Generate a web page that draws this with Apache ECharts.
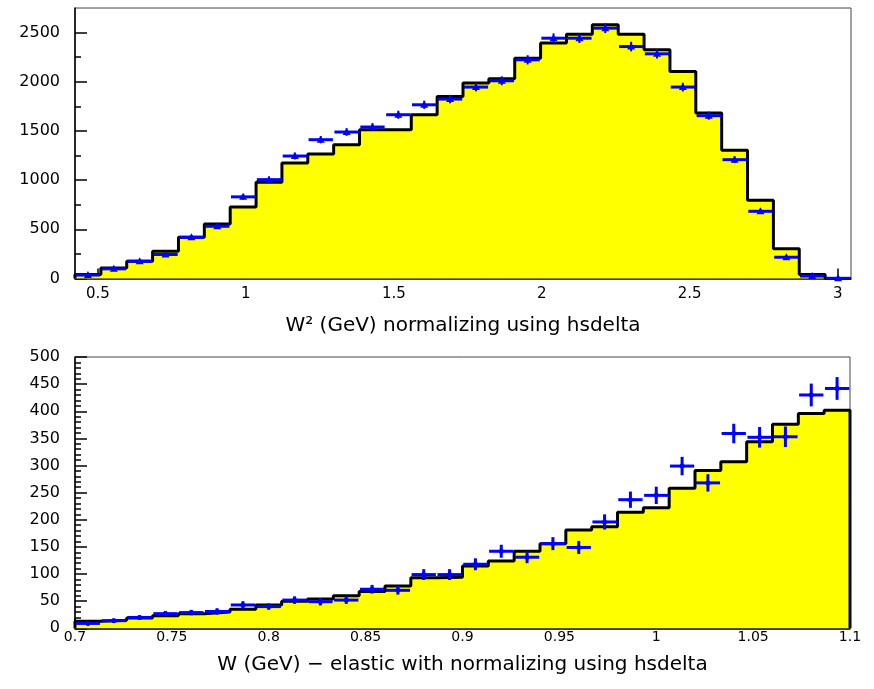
<!DOCTYPE html>
<html><head><meta charset="utf-8">
<script src="https://cdn.jsdelivr.net/npm/echarts@6/dist/echarts.min.js"></script>
<style>html,body{margin:0;padding:0;background:#fff}#c{width:874px;height:689px}</style>
</head><body><div id="c"></div>
<script>
// ---------- top panel : W^2 ----------
const topRange = [0.4225, 3.045];
const topSim  = [40, 108, 176, 277, 419, 555, 728, 978, 1175, 1266, 1360, 1513, 1513, 1665, 1851, 1987, 2030, 2240, 2393, 2484, 2579, 2484, 2325, 2105, 1682, 1303, 795, 302, 41, 0];
const topData = [35, 98, 176, 244, 419, 531, 830, 1005, 1245, 1411, 1489, 1540, 1665, 1766, 1824, 1946, 2010, 2223, 2443, 2443, 2545, 2358, 2284, 1946, 1655, 1208, 683, 216, 25, 2];
const topErr  = [6, 10, 13, 16, 20, 23, 29, 32, 35, 37, 39, 39, 41, 42, 43, 44, 45, 47, 49, 49, 50, 49, 48, 44, 41, 35, 26, 15, 5, 1];
const topMajorX = [0.5, 1, 1.5, 2, 2.5, 3];
const topMajorY = [0, 500, 1000, 1500, 2000, 2500];
const topYMax = 2750;
const topTitle = 'W\u00B2 (GeV) normalizing using hsdelta';

// ---------- bottom panel : W ----------
const botRange = [0.7, 1.1];
const botSim  = [13, 15, 19, 23, 27, 30, 35, 43, 50, 54, 60, 68, 78, 93, 94, 115, 124, 142, 156, 181, 187, 214, 222, 258, 291, 307, 344, 376, 396, 402];
const botData = [9, 14, 20, 27, 29, 31, 43, 40, 52, 49, 52, 72, 70, 99, 99, 118, 142, 131, 156, 149, 196, 237, 245, 299, 268, 359, 352, 353, 430, 442];
const botErr  = [3, 4, 4, 5, 5, 6, 7, 6, 7, 7, 7, 8, 8, 10, 10, 11, 12, 11, 12, 12, 14, 15, 16, 17, 16, 18, 19, 19, 21, 21];
const botMajorX = [0.7, 0.75, 0.8, 0.85, 0.9, 0.95, 1, 1.05, 1.1];
const botMajorY = [0, 50, 100, 150, 200, 250, 300, 350, 400, 450, 500];
const botYMax = 500;
const botTitle = 'W (GeV) \u2212 elastic with normalizing using hsdelta';

// minor tick positions (between the majors)
function minors(majors, n, lo, hi) {
  const out = [];
  const step = (majors[1] - majors[0]) / n;
  for (let v = majors[0] - step * n; v <= hi + 1e-9; v += step) {
    const r = Math.round(v * 1e6) / 1e6;
    if (r < lo - 1e-9) continue;
    if (majors.some(m => Math.abs(m - r) < 1e-6)) continue;
    out.push(r);
  }
  return out;
}
const topMinorX = minors(topMajorX, 5, topRange[0], topRange[1]);
const topMinorY = minors(topMajorY, 2, 0, topYMax - 1);
const botMinorX = minors(botMajorX, 2, botRange[0], botRange[1]);
const botMinorY = minors(botMajorY, 5, 0, botYMax - 1);

const FONT = 'DejaVu Sans';
const plain = v => String(Math.round(v * 1e6) / 1e6);

function stepPoints(range, vals) {
  const w = (range[1] - range[0]) / vals.length;
  const pts = [[range[0], 0]];
  vals.forEach((v, i) => pts.push([range[0] + i * w, v]));
  pts.push([range[1], vals[vals.length - 1]]);
  pts.push([range[1], 0]);
  return pts;
}

function histSeries(range, vals, gi) {
  return {
    type: 'line', xAxisIndex: gi * 2, yAxisIndex: gi * 2,
    data: stepPoints(range, vals), step: 'end', symbol: 'none',
    lineStyle: { color: '#000', width: 3 },
    areaStyle: { color: '#ffff00', opacity: 1, origin: 'start' },
    z: 2, silent: true, animation: false
  };
}

function errSeries(range, vals, errs, gi, cross) {
  const w = (range[1] - range[0]) / vals.length;
  const data = vals.map((v, i) => [range[0] + (i + 0.5) * w, v, errs[i]]);
  return {
    type: 'custom', xAxisIndex: gi * 2, yAxisIndex: gi * 2, data, z: 5, animation: false, silent: true,
    renderItem: function (params, api) {
      const xc = api.value(0), v = api.value(1), e = api.value(2);
      const pL = api.coord([xc - w / 2 + w * 0.03, v]);
      const pR = api.coord([xc + w / 2 - w * 0.03, v]);
      const pC = api.coord([xc, v]);
      const pT = api.coord([xc, v + e]);
      const pB = api.coord([xc, Math.max(v - e, 0)]);
      const blue = '#0000ff';
      const children = [
        { type: 'line', shape: { x1: pL[0], y1: pL[1], x2: pR[0], y2: pR[1] }, style: { stroke: blue, lineWidth: 3 } },
        { type: 'line', shape: { x1: pT[0], y1: pT[1], x2: pB[0], y2: pB[1] }, style: { stroke: blue, lineWidth: cross ? 3 : 2 } }
      ];
      if (!cross) {
        children.push({ type: 'polygon', shape: { points: [[pC[0] - 4, pC[1] + 3], [pC[0] + 4, pC[1] + 3], [pC[0], pC[1] - 4]] }, style: { fill: blue } });
      } else {
        children.push({ type: 'circle', shape: { cx: pC[0], cy: pC[1], r: 2.5 }, style: { fill: blue } });
      }
      return { type: 'group', children };
    }
  };
}

function xAxes(range, majors, minorsArr, gi, labelSize, labelMargin, title, nameGap) {
  return [
    {
      type: 'value', gridIndex: gi, min: range[0], max: range[1], position: 'bottom',
      axisLine: { show: true, onZero: false, lineStyle: { color: '#000', width: 1.5 } },
      axisTick: { show: true, inside: true, length: 10, customValues: majors, lineStyle: { color: '#000', width: 1.5 } },
      axisLabel: { show: true, customValues: majors, margin: labelMargin, color: '#000', fontFamily: FONT, fontSize: labelSize, formatter: plain },
      splitLine: { show: false },
      name: title, nameLocation: 'middle', nameGap: nameGap,
      nameTextStyle: { color: '#000', fontFamily: FONT, fontSize: 20 }
    },
    {
      type: 'value', gridIndex: gi, min: range[0], max: range[1], position: 'bottom', offset: 0,
      axisLine: { show: false },
      axisTick: { show: true, inside: true, length: 5, customValues: minorsArr, lineStyle: { color: '#000', width: 1.5 } },
      axisLabel: { show: false }, splitLine: { show: false }
    }
  ];
}

function yAxes(max, majors, minorsArr, gi) {
  return [
    {
      type: 'value', gridIndex: gi, min: 0, max: max, position: 'left',
      axisLine: { show: true, onZero: false, lineStyle: { color: '#000', width: 1.5 } },
      axisTick: { show: true, inside: true, length: 12, customValues: majors, lineStyle: { color: '#000', width: 1.5 } },
      axisLabel: { show: true, customValues: majors, margin: 15, color: '#000', fontFamily: FONT, fontSize: 16, formatter: plain },
      splitLine: { show: false }
    },
    {
      type: 'value', gridIndex: gi, min: 0, max: max, position: 'left', offset: 0,
      axisLine: { show: false },
      axisTick: { show: true, inside: true, length: 6, customValues: minorsArr, lineStyle: { color: '#000', width: 1.5 } },
      axisLabel: { show: false }, splitLine: { show: false }
    }
  ];
}

const chart = echarts.init(document.getElementById('c'), null, { renderer: 'canvas' });
chart.setOption({
  backgroundColor: '#fff',
  animation: false,
  grid: [
    { left: 75, right: 23, top: 8, height: 270.5, show: true, borderColor: '#444', borderWidth: 1, backgroundColor: 'transparent' },
    { left: 75, right: 24, top: 357, height: 271.3, show: true, borderColor: '#444', borderWidth: 1, backgroundColor: 'transparent' }
  ],
  xAxis: [
    ...xAxes(topRange, topMajorX, topMinorX, 0, 15, 8, topTitle, 37),
    ...xAxes(botRange, botMajorX, botMinorX, 1, 14, 2, botTitle, 26)
  ],
  yAxis: [
    ...yAxes(topYMax, topMajorY, topMinorY, 0),
    ...yAxes(botYMax, botMajorY, botMinorY, 1)
  ],
  series: [
    histSeries(topRange, topSim, 0),
    errSeries(topRange, topData, topErr, 0, false),
    histSeries(botRange, botSim, 1),
    errSeries(botRange, botData, botErr, 1, true)
  ]
});
</script>
</body></html>
